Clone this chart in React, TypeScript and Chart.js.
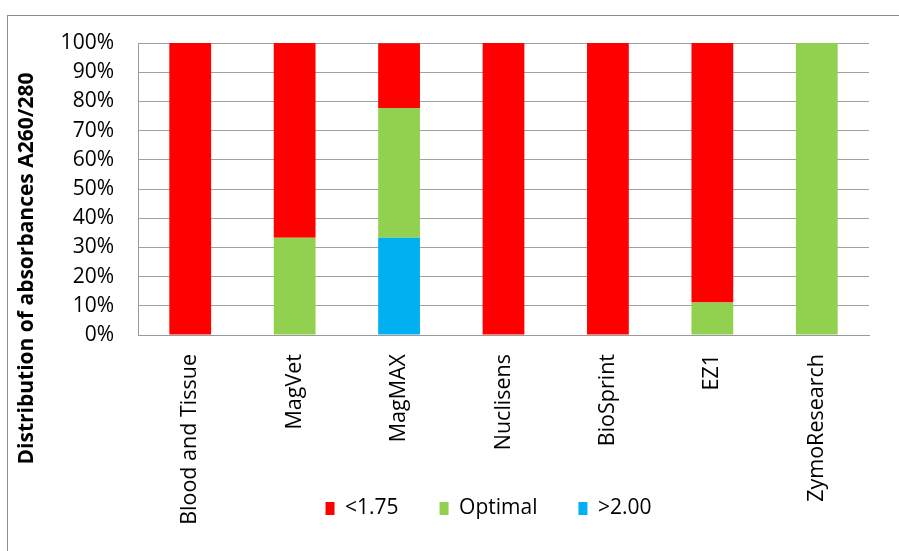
import React, { useEffect, useRef } from 'react';
import { Chart, registerables } from 'chart.js';

Chart.register(...registerables);

const categories = ['Blood and Tissue', 'MagVet', 'MagMAX', 'Nuclisens', 'BioSprint', 'EZ1', 'ZymoResearch'];
const seriesNames = ['<1.75', 'Optimal', '>2.00'];
const below175 = [100, 66.7, 22.2, 100, 100, 88.9, 0];
const optimal = [0, 33.3, 44.4, 0, 0, 11.1, 100];
const above200 = [0, 0, 33.3, 0, 0, 0, 0];
const seriesColors = ['#FF0000', '#92D050', '#00B0F0'];
const yTitle = 'Distribution of absorbances A260/280';

const FONT = '"Open Sans", "DejaVu Sans", sans-serif';

const yTitlePlugin = {
  id: 'yTitleFull',
  afterLayout(chart: any) {
    // let the tick labels overflow their scale boxes without being clipped
    if (chart.scales.y) chart.scales.y.left = 0;
    if (chart.scales.x) chart.scales.x.bottom = chart.height;
  },
  afterDraw(chart: any) {
    const ctx = chart.ctx;
    ctx.save();
    ctx.translate(27, 268.5);
    ctx.rotate(-Math.PI / 2);
    ctx.font = 'bold 21px ' + FONT;
    ctx.fillStyle = '#000000';
    ctx.textAlign = 'center';
    ctx.textBaseline = 'middle';
    ctx.fillText(yTitle, 0, 0);
    ctx.restore();
  },
};

export default function App() {
  const ref = useRef<HTMLCanvasElement | null>(null);

  useEffect(() => {
    if (!ref.current) return;
    const chart = new Chart(ref.current, {
      type: 'bar',
      data: {
        labels: categories,
        datasets: [
          { label: seriesNames[2], data: above200, backgroundColor: seriesColors[2], borderWidth: 0 },
          { label: seriesNames[1], data: optimal, backgroundColor: seriesColors[1], borderWidth: 0 },
          { label: seriesNames[0], data: below175, backgroundColor: seriesColors[0], borderWidth: 0 },
        ],
      },
      options: {
        responsive: false,
        animation: false,
        devicePixelRatio: 1,
        layout: { padding: { left: 108, right: 30, top: 43, bottom: 22 } },
        datasets: { bar: { categoryPercentage: 1, barPercentage: 0.4 } },
        plugins: {
          legend: {
            position: 'bottom',
            reverse: true,
            labels: {
              boxWidth: 9,
              boxHeight: 13,
              padding: 41,
              color: '#000000',
              font: { family: FONT, size: 21 },
            },
          },
          tooltip: { enabled: false },
          title: { display: false },
        },
        scales: {
          x: {
            stacked: true,
            grid: { display: false, drawTicks: false },
            border: { display: true, color: '#9a9a9a', width: 1 },
            ticks: {
              autoSkip: false,
              minRotation: 90,
              maxRotation: 90,
              padding: 19,
              color: '#000000',
              font: { family: FONT, size: 21.5 },
            },
            afterFit(scale: any) {
              scale.height = 122;
            },
          },
          y: {
            stacked: true,
            min: 0,
            max: 100,
            grid: { color: '#a0a0a0', lineWidth: 1, drawTicks: false },
            border: { display: true, color: '#9a9a9a', width: 1 },
            ticks: {
              stepSize: 10,
              padding: 24,
              color: '#000000',
              font: { family: FONT, size: 21 },
              callback: (v: any) => v + '%',
            },
            afterFit(scale: any) {
              scale.width = 30;
            },
          },
        },
      },
      plugins: [yTitlePlugin],
    });
    return () => chart.destroy();
  }, []);

  return (
    <div style={{ position: 'absolute', left: 0, top: 0, width: 899, height: 551, overflow: 'hidden', background: '#ffffff' }}>
      <div
        style={{
          position: 'absolute',
          left: 7,
          top: 15,
          width: 900,
          height: 600,
          borderLeft: '1px solid #8c8c8c',
          borderTop: '1px solid #8c8c8c',
        }}
      />
      <canvas ref={ref} width={899} height={551} style={{ position: 'absolute', left: 0, top: 0, width: 899, height: 551 }} />
    </div>
  );
}
